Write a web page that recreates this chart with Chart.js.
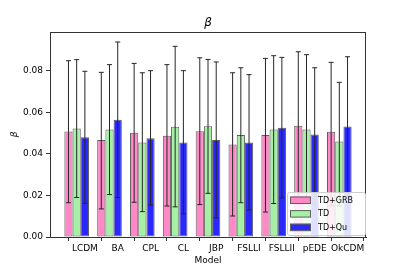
<!DOCTYPE html>
<html><head><meta charset="utf-8">
<script src="https://cdn.jsdelivr.net/npm/chart.js@4/dist/chart.umd.min.js"></script>
<style>html,body{margin:0;padding:0;background:#fff}#wrap{width:407px;height:271px}</style>
</head><body><div id="wrap"><canvas id="c" width="407" height="271"></canvas></div>
<script>
const models = ['LCDM','BA','CPL','CL','JBP','FSLLI','FSLLII','pEDE','OkCDM'];
const seriesNames = ['TD+GRB','TD','TD+Qu'];
const tdGrb     = [0.0508,0.0466,0.0501,0.0487,0.0509,0.0445,0.0491,0.0535,0.0506];
const tdGrbLow  = [0.0165,0.0135,0.0167,0.0149,0.0156,0.0101,0.0120,0.0160,0.0150];
const tdGrbHigh = [0.0848,0.0792,0.0835,0.0829,0.0862,0.0790,0.0859,0.0891,0.0840];
const td        = [0.0522,0.0517,0.0454,0.0530,0.0533,0.0491,0.0517,0.0517,0.0459];
const tdLow     = [0.0190,0.0204,0.0122,0.0145,0.0210,0.0165,0.0161,0.0180,0.0150];
const tdHigh    = [0.0853,0.0829,0.0790,0.0917,0.0854,0.0814,0.0872,0.0877,0.0744];
const tdQu      = [0.0480,0.0564,0.0475,0.0454,0.0466,0.0454,0.0525,0.0493,0.0532];
const tdQuLow   = [0.0162,0.0190,0.0153,0.0112,0.0092,0.0130,0.0188,0.0160,0.0180];
const tdQuHigh  = [0.0797,0.0938,0.0800,0.0800,0.0842,0.0781,0.0864,0.0814,0.0867];
const yTicks = [0, 0.02, 0.04, 0.06, 0.08];
const yMax = 0.0986;

const colors = ['rgb(255,136,198)','rgb(166,240,166)','rgb(40,40,255)'];
const edge = 'rgb(95,95,95)';
const FONT = 'DejaVu Sans';

function mk(label, vals, lo, hi, ci){
  return {label, data: vals.map((v,i)=>({x:i-0.25, y:v})), low: lo, high: hi,
    backgroundColor: colors[ci], borderColor: edge, borderWidth: 1, borderSkipped: false};
}

const errPlugin = {
  id: 'err',
  afterDatasetsDraw(chart){
    const ctx = chart.ctx, ys = chart.scales.y;
    ctx.save();
    ctx.strokeStyle = '#262626'; ctx.lineWidth = 1;
    chart.data.datasets.forEach((ds, di) => {
      const meta = chart.getDatasetMeta(di);
      meta.data.forEach((bar, j) => {
        const x = bar.x;
        const y1 = ys.getPixelForValue(ds.low[j]);
        const y2 = ys.getPixelForValue(ds.high[j]);
        ctx.beginPath();
        ctx.moveTo(x, y1); ctx.lineTo(x, y2);
        ctx.moveTo(x-2.5, y1); ctx.lineTo(x+2.5, y1);
        ctx.moveTo(x-2.5, y2); ctx.lineTo(x+2.5, y2);
        ctx.stroke();
      });
    });
    ctx.restore();
  },
  afterDraw(chart){
    const ctx = chart.ctx, a = chart.chartArea;
    ctx.save();
    ctx.strokeStyle = '#333'; ctx.lineWidth = 1;
    ctx.beginPath();
    ctx.moveTo(a.left, a.top+0.5); ctx.lineTo(a.right, a.top+0.5);
    ctx.moveTo(a.right-0.5, a.top); ctx.lineTo(a.right-0.5, a.bottom);
    ctx.stroke();
    ctx.fillStyle = '#000';
    ctx.textAlign = 'center'; ctx.textBaseline = 'alphabetic';
    ctx.font = 'italic 12px "' + FONT + '"';
    ctx.fillText('β', (a.left+a.right)/2, 26);
    ctx.font = '9px "' + FONT + '"';
    ctx.fillText('Model', (a.left+a.right)/2, 263);
    ctx.save();
    ctx.translate(17, (a.top+a.bottom)/2);
    ctx.rotate(-Math.PI/2);
    ctx.font = 'italic 9px "' + FONT + '"';
    ctx.fillText('β', 0, 0);
    ctx.restore();
    const lx = 287, ly = 192, lw = 78, lh = 43;
    ctx.fillStyle = 'rgba(255,255,255,0.85)';
    ctx.strokeStyle = '#cccccc';
    ctx.beginPath();
    if (ctx.roundRect) ctx.roundRect(lx+0.5, ly+0.5, lw, lh, 2); else ctx.rect(lx+0.5, ly+0.5, lw, lh);
    ctx.fill(); ctx.stroke();
    ctx.font = '8px "' + FONT + '"';
    ctx.textAlign = 'left'; ctx.textBaseline = 'middle';
    seriesNames.forEach((n, i) => {
      const cy = ly + 8 + i*13.6;
      ctx.fillStyle = colors[i];
      ctx.fillRect(lx+3, cy-3.5, 21, 7);
      ctx.strokeStyle = edge;
      ctx.strokeRect(lx+3.5, cy-3, 20, 6.5);
      ctx.fillStyle = '#000';
      ctx.fillText(n, lx+31, cy+0.5);
    });
    ctx.restore();
  }
};

new Chart(document.getElementById('c'), {
  type: 'bar',
  data: { datasets: [
    mk(seriesNames[0], tdGrb, tdGrbLow, tdGrbHigh, 0),
    mk(seriesNames[1], td, tdLow, tdHigh, 1),
    mk(seriesNames[2], tdQu, tdQuLow, tdQuHigh, 2)
  ]},
  options: {
    responsive: false, animation: false, devicePixelRatio: 1,
    layout: { padding: { left: 0, right: 41, top: 32, bottom: 0 } },
    datasets: { bar: { categoryPercentage: 0.75, barPercentage: 1.0 } },
    plugins: { legend: { display: false }, title: { display: false }, tooltip: { enabled: false } },
    scales: {
      x: {
        type: 'linear', min: -1.0625, max: 8.5625, offset: false,
        afterBuildTicks(s){ s.ticks = models.map((m,i)=>({value:i})); },
        afterFit(s){ s.height = 34; },
        ticks: { autoSkip: false, maxRotation: 0, padding: 2, color: '#000',
          font: { family: FONT, size: 9 }, callback: (v) => models[v] ?? '' },
        grid: { display: true, drawOnChartArea: false, drawTicks: true, tickLength: 4, color: '#333' },
        border: { display: true, color: '#333', width: 1 }
      },
      y: {
        min: 0, max: yMax,
        afterBuildTicks(s){ s.ticks = yTicks.map(v=>({value:v})); },
        afterFit(s){ s.width = 50; },
        ticks: { padding: 3, color: '#000', font: { family: FONT, size: 9 },
          callback: (v) => Number(v).toFixed(2) },
        grid: { display: true, drawOnChartArea: false, drawTicks: true, tickLength: 4, color: '#333' },
        border: { display: true, color: '#333', width: 1 }
      }
    }
  },
  plugins: [errPlugin]
});
</script></body></html>
